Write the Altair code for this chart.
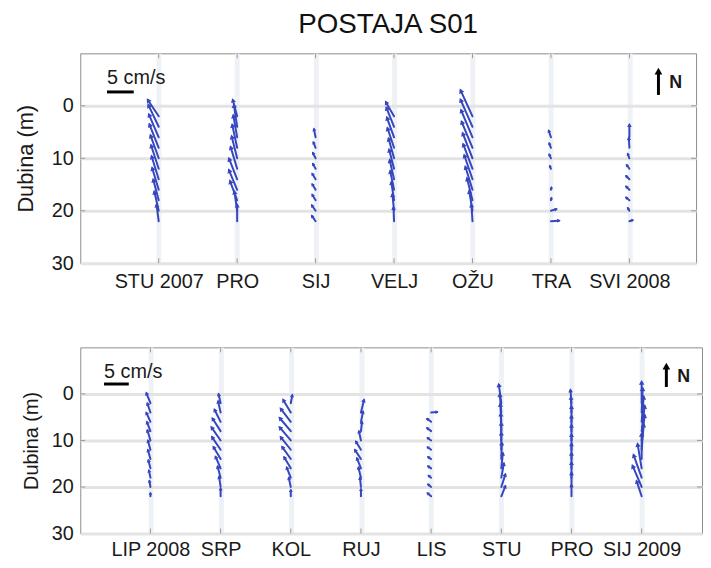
import json
import math
import altair as alt
import pandas as pd

# ---------------- data (cm/s, east u / north v) ----------------
DEPTHS = [2, 4, 6, 8, 10, 12, 14, 16, 18, 20, 22]

TOP_MONTHS = ["STU 2007", "PRO", "SIJ", "VELJ", "OŽU", "TRA", "SVI 2008"]
BOT_MONTHS = ["LIP 2008", "SRP", "KOL", "RUJ", "LIS", "STU", "PRO", "SIJ 2009"]

# top panel (Sep 2007 - May 2008)
u_stu07 = [-2.0, -1.9, -1.8, -1.7, -1.5, -1.4, -1.3, -1.2, -1.0, -0.8, -0.4]
v_stu07 = [3.0, 4.0, 4.2, 4.3, 4.2, 4.3, 4.2, 4.0, 3.8, 3.5, 3.0]
u_pro07 = [-0.8, -0.6, -0.7, -0.9, -1.0, -1.2, -1.5, -1.5, -1.3, -0.5, 0.0]
v_pro07 = [3.0, 4.0, 4.0, 4.2, 4.0, 4.0, 3.8, 3.6, 3.5, 3.5, 3.0]
u_sij08 = [None, None, -0.3, -0.4, -0.5, -0.5, -0.6, -0.6, -0.6, -0.7, -0.7]
v_sij08 = [None, None, 1.5, 1.0, 1.0, 0.9, 1.0, 1.0, 1.0, 1.0, 1.0]
u_velj08 = [-1.5, -1.4, -1.3, -1.2, -1.0, -0.9, -0.8, -0.7, -0.5, -0.3, -0.1]
v_velj08 = [2.6, 3.5, 3.6, 3.6, 3.6, 3.5, 3.5, 3.4, 3.3, 3.0, 2.5]
u_ozu08 = [-2.2, -2.2, -2.1, -2.0, -1.8, -1.7, -1.5, -1.3, -1.0, -0.6, -0.2]
v_ozu08 = [4.8, 5.0, 5.0, 4.8, 4.6, 4.5, 4.4, 4.2, 4.0, 3.6, 3.0]
u_tra08 = [None, None, -0.4, -0.3, -0.3, -0.2, None, 0.1, 0.1, 1.0, 1.5]
v_tra08 = [None, None, 1.2, 0.8, 0.7, 0.5, None, 0.4, 0.4, 0.3, 0.1]
u_svi08 = [None, None, 0.0, -0.1, -0.3, -0.5, -0.6, -0.6, -0.6, -0.3, 0.6]
v_svi08 = [None, None, 2.3, 1.8, 0.8, 0.7, 0.6, 0.6, 0.5, 0.5, 0.2]

# bottom panel (Jun 2008 - Jan 2009)
u_lip08 = [-0.8, -0.6, -0.8, -0.7, -0.6, -0.5, -0.5, -0.4, -0.3, -0.2, 0.0]
v_lip08 = [2.0, 1.8, 1.8, 1.8, 2.0, 1.8, 1.8, 1.6, 1.4, 1.2, 0.6]
u_srp08 = [-0.4, -0.5, -1.2, -1.6, -1.8, -1.7, -1.4, -1.0, -0.6, -0.3, 0.0]
v_srp08 = [1.8, 2.2, 2.4, 2.5, 2.6, 2.5, 2.4, 2.3, 2.2, 2.0, 1.5]
u_kol08 = [0.3, -1.5, -2.0, -2.2, -2.2, -2.0, -1.7, -1.3, -0.8, -0.4, 0.0]
v_kol08 = [1.6, 2.5, 2.6, 2.6, 2.6, 2.5, 2.4, 2.2, 2.0, 1.8, 1.2]
u_ruj08 = [None, 0.6, 0.4, 0.2, -0.4, -1.0, -1.2, -0.8, -0.5, -0.2, 0.0]
v_ruj08 = [None, 2.5, 2.0, 1.8, 1.8, 1.6, 1.8, 2.0, 2.0, 1.8, 1.4]
u_lis08 = [None, 1.2, -0.8, -0.8, -0.7, -0.7, -0.6, -0.6, -0.5, -0.6, -0.7]
v_lis08 = [None, 0.1, 0.6, 0.6, 0.5, 0.5, 0.4, 0.4, 0.4, 0.5, 0.6]
u_stu08 = [-0.5, -0.3, -0.2, -0.1, 0.0, 0.0, 0.1, 0.3, 0.5, 0.8, 0.8]
v_stu08 = [3.7, 3.6, 3.5, 3.4, 3.4, 3.3, 3.2, 3.0, 2.8, 2.5, 2.0]
u_pro08 = [-0.2, -0.1, 0.0, 0.0, 0.0, 0.0, 0.0, 0.0, 0.0, 0.0, 0.0]
v_pro08 = [2.6, 3.0, 3.0, 3.0, 3.0, 3.0, 3.0, 3.0, 3.0, 2.8, 2.2]
u_sij09 = [0.0, 0.2, 0.4, 0.6, 0.6, 0.4, 0.0, -0.8, -1.6, -1.8, -1.0]
v_sij09 = [4.2, 4.8, 5.0, 5.0, 5.0, 5.0, 5.0, 4.8, 4.5, 4.2, 3.0]

TOP_U = [u_stu07, u_pro07, u_sij08, u_velj08, u_ozu08, u_tra08, u_svi08]
TOP_V = [v_stu07, v_pro07, v_sij08, v_velj08, v_ozu08, v_tra08, v_svi08]
BOT_U = [u_lip08, u_srp08, u_kol08, u_ruj08, u_lis08, u_stu08, u_pro08, u_sij09]
BOT_V = [v_lip08, v_srp08, v_kol08, v_ruj08, v_lis08, v_stu08, v_pro08, v_sij09]

Y_TICKS = [0, 10, 20, 30]

BLUE = "#3546bf"
FONT = "Liberation Sans"
TXT = "#1a1a1a"


def panel(months, us, vs, width, height, xmax, S, lab_pad_x, title_pad_y,
          title_size_y, txt_pos, bar_y, n_pos, title=None):
    pxm = width / xmax
    pxd = height / 40.0
    rows = []
    for i, (mu, mv) in enumerate(zip(us, vs)):
        for d, u, v in zip(DEPTHS, mu, mv):
            if u is None or v is None:
                continue
            x = i + 1
            ang = (math.degrees(math.atan2(u, v)) + 360.0) % 360.0
            L = S * math.hypot(u, v)
            rows.append(dict(x=x, d=d, x2=x + u * S / pxm, d2=d - v * S / pxd,
                             ang=ang, hs=min(30.0, 8.0 + 1.1 * L)))
    df = pd.DataFrame(rows)

    xs = alt.Scale(domain=[0, xmax], nice=False, zero=False)
    ys = alt.Scale(domain=[-10, 30], reverse=True, nice=False, zero=False)
    label_expr = json.dumps([""] + months, ensure_ascii=False) + "[datum.value]"
    xaxis = alt.Axis(values=list(range(1, len(months) + 1)), labelExpr=label_expr,
                     title=None, ticks=False, domain=False, grid=True,
                     gridColor="#eef1f5", gridWidth=5, labelPadding=lab_pad_x,
                     labelFontSize=20, labelFont=FONT, labelColor=TXT)
    yaxis = alt.Axis(values=Y_TICKS, title="Dubina (m)", ticks=False, domain=False,
                     grid=True, gridColor="#e3e3e3", gridWidth=3, labelPadding=7,
                     labelFontSize=20, labelFont=FONT, labelColor=TXT,
                     titleFont=FONT, titleFontSize=title_size_y,
                     titleFontWeight="normal", titleColor=TXT,
                     titlePadding=title_pad_y)
    X = alt.X("x:Q", scale=xs, axis=xaxis)
    Y = alt.Y("d:Q", scale=ys, axis=yaxis)

    shafts = alt.Chart(df).mark_rule(color=BLUE, strokeWidth=2.0, strokeCap="round").encode(
        x=X, y=Y, x2="x2:Q", y2="d2:Q")
    heads = alt.Chart(df).mark_point(shape="triangle-up", filled=True, color=BLUE,
                                     opacity=1).encode(
        x=alt.X("x2:Q", scale=xs, axis=xaxis), y=alt.Y("d2:Q", scale=ys, axis=yaxis),
        angle=alt.Angle("ang:Q", scale=None), size=alt.Size("hs:Q", scale=None))

    # MATLAB-style inward ticks
    mt = pd.DataFrame({"x": list(range(1, len(months) + 1))})
    dt = pd.DataFrame({"d": Y_TICKS[:-1]})
    tick_c = "#9a9a9a"
    xt_top = alt.Chart(mt).mark_rule(color=tick_c).encode(x=X, y=alt.value(0), y2=alt.value(5))
    xt_bot = alt.Chart(mt).mark_rule(color=tick_c).encode(x=X, y=alt.value(height - 5), y2=alt.value(height))
    yt_l = alt.Chart(dt).mark_rule(color=tick_c).encode(y=Y, x=alt.value(0), x2=alt.value(5))
    yt_r = alt.Chart(dt).mark_rule(color=tick_c).encode(y=Y, x=alt.value(width - 5), x2=alt.value(width))

    one = pd.DataFrame({"k": [0]})
    tx, ty = txt_pos
    scale_txt = alt.Chart(one).mark_text(align="left", baseline="middle", font=FONT,
                                         fontSize=20, color=TXT).encode(
        x=alt.value(tx), y=alt.value(ty), text=alt.value("5 cm/s"))
    scale_bar = alt.Chart(one).mark_rule(color="black", strokeWidth=3).encode(
        x=alt.value(tx), x2=alt.value(tx + 5 * S), y=alt.value(bar_y))
    nx, ny0, ny1 = n_pos
    n_shaft = alt.Chart(one).mark_rule(color="black", strokeWidth=3).encode(
        x=alt.value(nx), y=alt.value(ny0 + 4), y2=alt.value(ny1))
    n_head = alt.Chart(one).mark_point(shape="triangle-up", filled=True, color="black",
                                       opacity=1, size=60).encode(
        x=alt.value(nx), y=alt.value(ny0 + 4))
    n_txt = alt.Chart(one).mark_text(align="left", baseline="middle", font=FONT,
                                     fontSize=18, fontWeight="bold", color=TXT).encode(
        x=alt.value(nx + 11), y=alt.value((ny0 + ny1) / 2 + 2), text=alt.value("N"))

    props = dict(width=width, height=height)
    if title is not None:
        props["title"] = title
    return alt.layer(xt_top, xt_bot, yt_l, yt_r, shafts, heads, scale_txt, scale_bar,
                     n_shaft, n_head, n_txt).properties(**props)


title = alt.TitleParams("POSTAJA S01", font=FONT, fontSize=28, fontWeight="normal",
                        color="#111111", anchor="middle", frame="group", offset=14)

top = panel(TOP_MONTHS, TOP_U, TOP_V, width=622, height=212, xmax=7.85, S=5.4,
            lab_pad_x=9, title_pad_y=14, title_size_y=22,
            txt_pos=(27, 25), bar_y=39, n_pos=(584, 14, 42), title=title)
bottom = panel(BOT_MONTHS, BOT_U, BOT_V, width=628, height=188, xmax=8.86, S=5.0,
               lab_pad_x=6, title_pad_y=10, title_size_y=20,
               txt_pos=(24, 25), bar_y=37, n_pos=(592, 15, 40))

chart = alt.vconcat(top, bottom, spacing=54).properties(
    padding={"left": 6, "top": 0, "right": 0, "bottom": 0}
).configure_view(stroke="#8c8c8c", strokeWidth=1)

chart.save("out.html", embed_options={"renderer": "svg", "actions": False})
